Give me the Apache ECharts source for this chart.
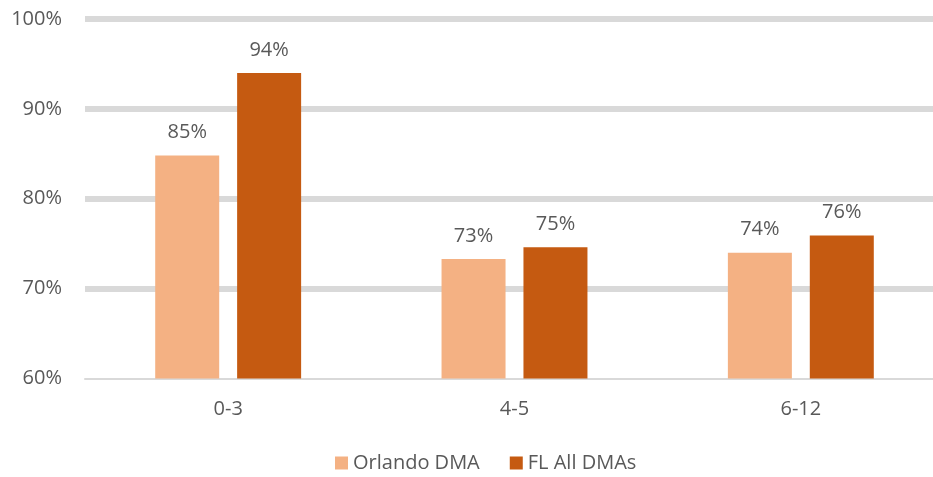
<!DOCTYPE html>
<html>
<head>
<meta charset="utf-8">
<script src="https://cdn.jsdelivr.net/npm/echarts@6/dist/echarts.min.js"></script>
<style>
  html, body { margin: 0; padding: 0; background: #ffffff; }
  #chart { width: 933px; height: 477px; }
</style>
</head>
<body>
<div id="chart"></div>
<script>
// Age groups on the category axis
const categories = ['0-3', '4-5', '6-12'];
// Share of households (%) for each market
const orlandoValues = [84.8, 73.3, 74.0];
const flAllValues = [94.0, 74.6, 75.9];
const seriesNames = ['Orlando DMA', 'FL All DMAs'];
// Value axis range and step (%)
const yMin = 60;
const yMax = 100;
const yStep = 10;

const FONT = '"Open Sans", "DejaVu Sans", sans-serif';
const TEXT = '#595959';

const chart = echarts.init(document.getElementById('chart'), null, { renderer: 'canvas' });

const valueLabel = {
  show: true,
  position: 'top',
  distance: 13,
  color: TEXT,
  fontFamily: FONT,
  fontSize: 20,
  formatter: p => Math.round(p.value) + '%'
};

chart.setOption({
  animation: false,
  backgroundColor: '#ffffff',
  // plot area runs a little past the right edge of the canvas
  grid: { left: 85, right: -11, top: 19, bottom: 98.5, outerBoundsMode: 'none', containLabel: false },
  legend: {
    left: 330,
    top: 448,
    itemWidth: 13,
    itemHeight: 13,
    itemGap: 30,
    icon: 'rect',
    textStyle: { color: TEXT, fontFamily: FONT, fontSize: 20 },
    data: seriesNames
  },
  xAxis: {
    type: 'category',
    data: categories,
    axisLine: { show: true, lineStyle: { color: '#d9d9d9', width: 2 } },
    axisTick: { show: false },
    axisLabel: { color: TEXT, fontFamily: FONT, fontSize: 20, margin: 21 }
  },
  yAxis: {
    type: 'value',
    min: yMin,
    max: yMax,
    interval: yStep,
    axisLine: { show: false },
    axisTick: { show: false },
    axisLabel: { color: TEXT, fontFamily: FONT, fontSize: 20, margin: 23, formatter: '{value}%' },
    splitLine: { show: true, showMinLine: false, lineStyle: { color: '#d9d9d9', width: 6 } }
  },
  series: [
    {
      name: seriesNames[0],
      type: 'bar',
      data: orlandoValues,
      barWidth: 64,
      barGap: '28%',
      itemStyle: { color: '#F4B183' },
      label: valueLabel
    },
    {
      name: seriesNames[1],
      type: 'bar',
      data: flAllValues,
      barWidth: 64,
      barGap: '28%',
      itemStyle: { color: '#C55A11' },
      label: valueLabel
    }
  ]
});
</script>
</body>
</html>
